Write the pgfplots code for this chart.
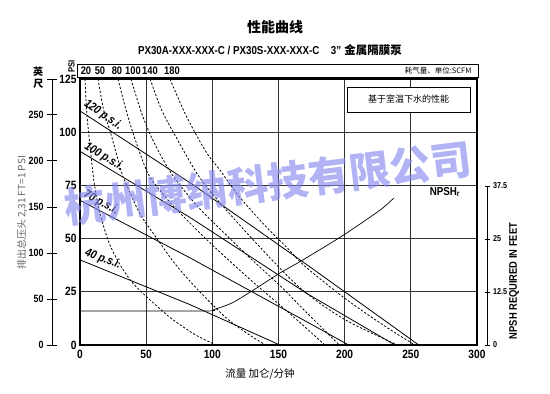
\documentclass[border=0pt]{standalone}
\usepackage{pgfplots}
\pgfplotsset{compat=1.18}
\usepackage{fontspec}
\setmainfont{Liberation Sans}
\newfontfamily\cond[FakeStretch=0.85]{Liberation Sans}
\newfontfamily\cjk{Noto Sans CJK SC}
\definecolor{wm}{RGB}{135,138,238}
\begin{document}
\begin{tikzpicture}[x=1pt,y=1pt]
\useasboundingbox (0,0) rectangle (550,394);

% ---- main axis ----
\begin{axis}[at={(80pt,49pt)}, anchor=south west, scale only axis,
  width=397pt, height=266pt,
  xmin=0, xmax=300, ymin=0, ymax=125,
  xtick={0,50,...,300}, ytick={0,25,...,125},
  grid=major, major grid style={black!80, line width=0.7pt},
  axis line style={line width=2.4pt},
  major tick length=0pt,
  ticklabel style={font=\cond\bfseries\fontsize{12}{12}\selectfont},
  xticklabel style={yshift=-2pt},
  /pgf/number format/assume math mode=true,
]
% pressure lines
\addplot[black, line width=0.8pt] coordinates {(0,110) (85,75.5) (172,37.5) (256,0)};
\addplot[black, line width=0.8pt] coordinates {(0,91) (83,60) (172,24) (238,0)};
\addplot[black, line width=0.8pt] coordinates {(0,68) (83,41) (174,10) (203,0)};
\addplot[black, line width=0.8pt] coordinates {(0,40) (83,19) (151,0)};
% NPSH curve
\addplot[black, line width=0.7pt, smooth, tension=0.4] coordinates {(0,16) (95,16) (101,16.6) (115,19.8) (131,25.8) (151,33.8) (168,39.8) (199,51.6) (227,63.5) (237,69)};
% air consumption curves (SCFM)
\addplot[black, line width=0.8pt, dash pattern=on 2.2pt off 1.8pt, smooth] coordinates {(3.8,125) (5,110) (6.5,100) (9,85) (11,75) (15,62) (22,48) (30,38) (40,29) (55,20) (70,12) (88,4.5) (103,0)};
\addplot[black, line width=0.8pt, dash pattern=on 2.2pt off 1.8pt, smooth] coordinates {(13.6,125) (18,110) (23,100) (31,82) (34,77) (45,62) (57,51) (72,38) (89,26) (110,13) (125,6) (140,0)};
\addplot[black, line width=0.8pt, dash pattern=on 2.2pt off 1.8pt, smooth] coordinates {(28.7,125) (35,110) (42,96) (51,81) (60,73) (74,63) (100,47) (130,30) (160,14) (185,0)};
\addplot[black, line width=0.8pt, dash pattern=on 2.2pt off 1.8pt, smooth] coordinates {(38.5,125) (46,110) (53,99) (62,88) (72,78) (89,65) (110,52) (130,40) (151,28) (170,16) (196,0)};
\addplot[black, line width=0.8pt, dash pattern=on 2.2pt off 1.8pt, smooth] coordinates {(53,125) (62,110) (75,95) (88,81) (100,71) (130,50) (166,27) (200,12) (240,0)};
\addplot[black, line width=0.8pt, dash pattern=on 2.2pt off 1.8pt, smooth] coordinates {(68,125) (80,108) (95,91) (106,82) (120,70) (140,56) (156,46) (170,37) (200,22) (230,9) (253,0)};
\end{axis}

% ---- feet axis (left) ----
\begin{axis}[at={(52pt,49pt)}, anchor=south west, scale only axis,
  width=10pt, height=266pt, xmin=0, xmax=1, ymin=0, ymax=288.75,
  axis y line=left, axis x line=none,
  axis line style={-, line width=0.6pt},
  every outer y axis line/.append style={-},
  ytick={0,50,...,250}, extra y ticks={288.75}, extra y tick labels={},
  tick align=center, major tick length=10pt, tick style={line width=0.6pt, black},
  ticklabel style={font=\cond\bfseries\fontsize{10.5}{10.5}\selectfont},
  /pgf/number format/assume math mode=true,
]
\end{axis}

% ---- NPSH axis (right) ----
\begin{axis}[at={(487pt,49pt)}, anchor=south east, scale only axis,
  width=10pt, height=159pt, xmin=0, xmax=1, ymin=0, ymax=37.5,
  axis y line=right, axis x line=none,
  axis line style={-, line width=0.6pt},
  every outer y axis line/.append style={-},
  ytick={0,12.5,25,37.5},
  yticklabels={0,12.5,25,37.5},
  tick align=center, major tick length=5pt, tick style={line width=0.6pt, black},
  ticklabel style={font=\cond\bfseries\fontsize{8.5}{8.5}\selectfont},
]
\end{axis}

% ---- titles ----
\node[font=\cjk\bfseries\fontsize{14}{14}\selectfont] at (275,394-27) {性能曲线};
\node[font=\fontsize{11.5}{11.5}\selectfont] at (270,394-50) {{\cond\bfseries PX30A-XXX-XXX-C / PX30S-XXX-XXX-C\quad 3”} {\cjk\bfseries 金属隔膜泵}};

% top SCFM box
\draw[line width=0.6pt] (77,394-64) rectangle (478,394-77);
\begin{scope}[font=\cond\bfseries\fontsize{11}{11}\selectfont]
\node at (86,394-71) {20};
\node at (100,394-71) {50};
\node at (117,394-71) {80};
\node at (133,394-71) {100};
\node at (150,394-71) {140};
\node at (172,394-71) {180};
\end{scope}
\node[anchor=east, font=\cjk\fontsize{7.5}{7.5}\selectfont] at (475,394-70.5) {耗气量、单位:SCFM};

% axis captions
\node[font=\cjk\bfseries\fontsize{10}{10}\selectfont] at (38,394-72) {英};
\node[font=\cjk\bfseries\fontsize{10}{10}\selectfont] at (38.5,394-84) {尺};
\node[rotate=90, font=\cond\bfseries\fontsize{9}{9}\selectfont] at (71.5,394-66.5) {PSI};
\node[rotate=90, text=black!60, font=\cjk\fontsize{10}{10}\selectfont] at (22,394-213) {排出总压头 2,31 FT=1 PSI};
\node[font=\cjk\fontsize{10.5}{10.5}\selectfont] at (260,394-374) {流量 加仑/分钟};
\node[rotate=90, font=\cond\bfseries\fontsize{11}{11}\selectfont] at (514,394-281) {NPSH REQUIRED IN FEET};

% info box
\draw[line width=0.6pt, fill=white] (347,394-87) rectangle (470,394-112);
\node[font=\cjk\fontsize{9}{9}\selectfont] at (408.5,394-99.5) {基于室温下水的性能};

% NPSHr label
\node[font=\cond\bfseries\fontsize{11.5}{11.5}\selectfont] at (445,394-192) {NPSH\textsubscript{r}};

% pressure labels
\begin{scope}[font=\cond\bfseries\itshape\fontsize{12}{12}\selectfont]
\node[rotate=-35] at (103,394-115) {120 p.s.i.};
\node[rotate=-31] at (104,394-157) {100 p.s.i.};
\node[rotate=-28] at (101,394-203) {70 p.s.i.};
\node[rotate=-21.5] at (103,394-259) {40 p.s.i.};
\end{scope}

% watermark
\node[rotate=7, text=wm, opacity=0.65, font=\cjk\bfseries\fontsize{41}{41}\selectfont] at (268,394-183) {杭州博纳科技有限公司};
\end{tikzpicture}
\end{document}
